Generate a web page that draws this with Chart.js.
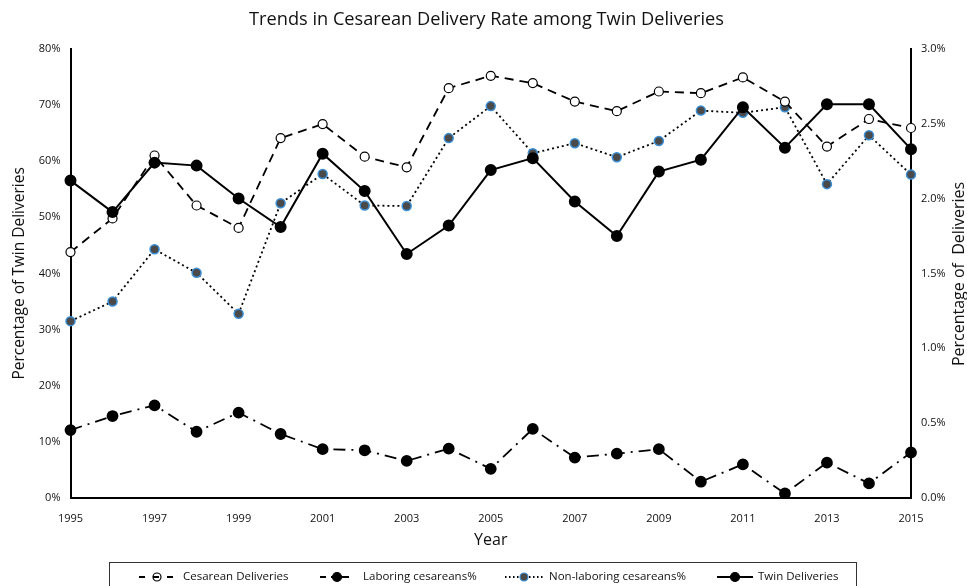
<!DOCTYPE html>
<html>
<head>
<meta charset="utf-8">
<script src="https://cdn.jsdelivr.net/npm/chart.js@4"></script>
<style>
  html, body { margin: 0; padding: 0; background: #fff; }
  #wrap { width: 967px; height: 586px; }
</style>
</head>
<body>
<div id="wrap"><canvas id="chart" width="967" height="586"></canvas></div>
<script>
// data
const years = [1995, 1996, 1997, 1998, 1999, 2000, 2001, 2002, 2003, 2004, 2005,
               2006, 2007, 2008, 2009, 2010, 2011, 2012, 2013, 2014, 2015];
const cesarean = [43.8, 49.8, 61.0, 52.1, 48.1, 64.1, 66.6, 60.8, 58.9, 73.0, 75.2,
                  73.9, 70.6, 68.9, 72.4, 72.1, 74.9, 70.6, 62.6, 67.5, 65.9];
const laboring = [12.1, 14.6, 16.5, 11.8, 15.2, 11.4, 8.7, 8.5, 6.6, 8.8, 5.2,
                  12.3, 7.2, 7.9, 8.7, 2.9, 6.0, 0.8, 6.3, 2.6, 8.1];
const nonLaboring = [31.5, 35.0, 44.3, 40.1, 32.8, 52.5, 57.7, 52.1, 52.0, 64.1, 69.8,
                     61.4, 63.2, 60.7, 63.6, 69.0, 68.6, 69.6, 55.9, 64.6, 57.6];
const twins = [2.12, 1.91, 2.24, 2.22, 2.00, 1.81, 2.30, 2.05, 1.63, 1.82, 2.19,
               2.27, 1.98, 1.75, 2.18, 2.26, 2.61, 2.34, 2.63, 2.63, 2.33];

const FONT = "'Open Sans', 'Noto Sans', sans-serif";
const blueRim = '#3a8fd6';
const darkFill = '#4a4a4a';

// legend entries drawn by hand (sample line + marker, then label)
const legendItems = [
  { text: 'Cesarean Deliveries', dash: [6, 8], x0: 139, x1: 175, cx: 157, r: 4, fill: '#fff', stroke: '#000', lineOnTop: true, tx: 183 },
  { text: 'Laboring cesareans%', dash: [6, 5, 40, 0], x0: 320, x1: 349, cx: 337, r: 4.5, fill: '#000', stroke: '#000', tx: 363 },
  { text: 'Non-laboring cesareans%', dash: [1.5, 2.5], x0: 505, x1: 543, cx: 524, r: 4, fill: darkFill, stroke: blueRim, tx: 549 },
  { text: 'Twin Deliveries', dash: [], x0: 717, x1: 753, cx: 735, r: 4.5, fill: '#000', stroke: '#000', tx: 758 }
];

function legendLine(ctx, it, y) {
  ctx.beginPath();
  ctx.setLineDash(it.dash);
  ctx.strokeStyle = '#000';
  ctx.lineWidth = 1.8;
  ctx.moveTo(it.x0, y);
  ctx.lineTo(it.x1, y);
  ctx.stroke();
  ctx.setLineDash([]);
}

const extrasPlugin = {
  id: 'extras',
  afterDraw(chart) {
    const ctx = chart.ctx;
    ctx.save();
    // legend box
    ctx.strokeStyle = '#333';
    ctx.lineWidth = 1;
    ctx.strokeRect(109.5, 562.5, 747, 34);
    const y = 577;
    legendItems.forEach(it => {
      if (!it.lineOnTop) legendLine(ctx, it, y);
      ctx.beginPath();
      ctx.arc(it.cx, y, it.r, 0, Math.PI * 2);
      ctx.fillStyle = it.fill;
      ctx.fill();
      ctx.strokeStyle = it.stroke;
      ctx.lineWidth = 1.2;
      ctx.stroke();
      if (it.lineOnTop) legendLine(ctx, it, y);
      ctx.font = '11.5px ' + FONT;
      ctx.textBaseline = 'middle';
      ctx.fillStyle = '#111';
      ctx.fillText(it.text, it.tx, y);
    });
    // right axis title, reading bottom to top like the left one
    ctx.translate(959, 274);
    ctx.rotate(-Math.PI / 2);
    ctx.font = '16px ' + FONT;
    ctx.textAlign = 'center';
    ctx.textBaseline = 'middle';
    ctx.fillStyle = '#111';
    ctx.fillText('Percentage of  Deliveries', 0, 0);
    ctx.restore();
  }
};

new Chart(document.getElementById('chart'), {
  type: 'line',
  data: {
    labels: years,
    datasets: [
      {
        label: 'Twin Deliveries',
        data: twins,
        yAxisID: 'y1',
        borderColor: '#000',
        borderWidth: 2,
        pointRadius: 5,
        pointBackgroundColor: '#000',
        pointBorderColor: '#000',
        tension: 0
      },
      {
        label: 'Cesarean Deliveries',
        data: cesarean,
        yAxisID: 'y',
        borderColor: '#000',
        borderWidth: 1.8,
        borderDash: [9, 6],
        pointRadius: 4.5,
        pointBackgroundColor: '#fff',
        pointBorderColor: '#000',
        pointBorderWidth: 1.2,
        tension: 0
      },
      {
        label: 'Non-laboring cesareans%',
        data: nonLaboring,
        yAxisID: 'y',
        borderColor: '#000',
        borderWidth: 1.8,
        borderDash: [2, 3],
        pointRadius: 4.5,
        pointBackgroundColor: darkFill,
        pointBorderColor: blueRim,
        pointBorderWidth: 1.5,
        tension: 0
      },
      {
        label: 'Laboring cesareans%',
        data: laboring,
        yAxisID: 'y',
        borderColor: '#000',
        borderWidth: 1.8,
        borderDash: [12, 6, 2, 6],
        pointRadius: 5,
        pointBackgroundColor: '#000',
        pointBorderColor: '#000',
        tension: 0
      }
    ]
  },
  options: {
    responsive: false,
    animation: false,
    layout: { padding: { top: 0, left: 6, right: 0, bottom: 32 } },
    plugins: {
      legend: { display: false },
      tooltip: { enabled: false },
      title: {
        display: true,
        text: 'Trends in Cesarean Delivery Rate among Twin Deliveries',
        color: '#111',
        font: { family: FONT, size: 18.2, weight: 'normal' },
        padding: { top: 9, bottom: 18 }
      }
    },
    scales: {
      x: {
        type: 'category',
        offset: false,
        grid: { display: false, drawTicks: false },
        border: { display: true, color: '#000', width: 2 },
        ticks: {
          autoSkip: false,
          maxRotation: 0,
          padding: 14,
          color: '#111',
          font: { family: FONT, size: 11 },
          callback: (v, i) => (i % 2 === 0 ? years[i] : '')
        },
        title: {
          display: true,
          text: 'Year',
          color: '#111',
          font: { family: FONT, size: 16 },
          padding: { top: 3 }
        },
        afterFit: s => { s.height = 56; }
      },
      y: {
        position: 'left',
        min: 0,
        max: 80,
        grid: { display: false, drawTicks: false },
        border: { display: true, color: '#000', width: 2 },
        ticks: {
          stepSize: 10,
          padding: 10,
          color: '#111',
          font: { family: FONT, size: 11 },
          callback: v => v + '%'
        },
        title: {
          display: true,
          text: 'Percentage of Twin Deliveries',
          color: '#111',
          font: { family: FONT, size: 15.5 }
        },
        afterFit: s => { s.width = 64.5; }
      },
      y1: {
        position: 'right',
        min: 0,
        max: 3,
        grid: { display: false, drawOnChartArea: false, drawTicks: true, tickLength: 4, color: '#000' },
        border: { display: true, color: '#000', width: 2 },
        ticks: {
          stepSize: 0.5,
          padding: 6,
          color: '#111',
          font: { family: FONT, size: 11 },
          callback: v => v.toFixed(1) + '%'
        },
        title: { display: false },
        afterFit: s => { s.width = 56; }
      }
    }
  },
  plugins: [extrasPlugin]
});
</script>
</body>
</html>
